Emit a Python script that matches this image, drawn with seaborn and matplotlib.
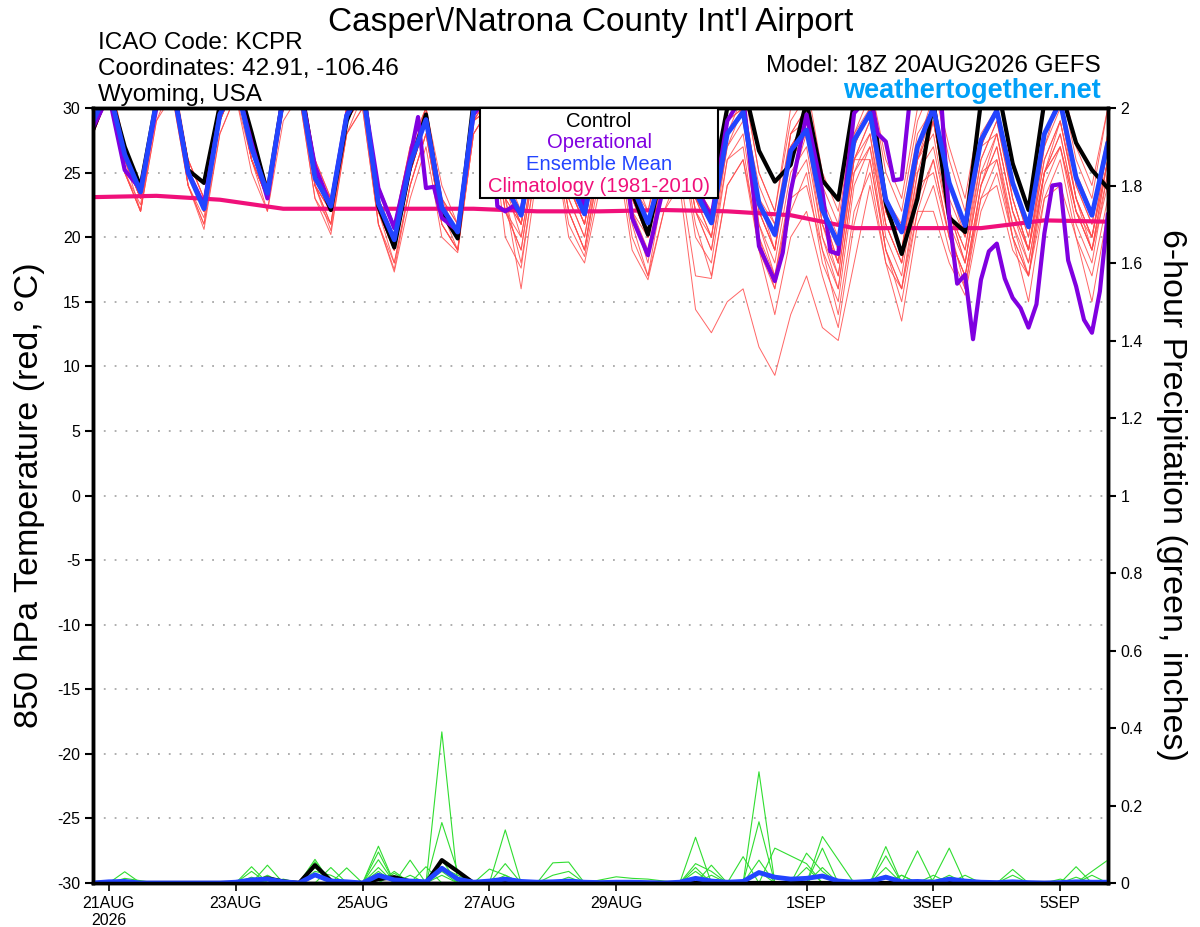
import numpy as np
import pandas as pd
import matplotlib
matplotlib.use("Agg")
import matplotlib.pyplot as plt
from matplotlib.patches import Rectangle
import seaborn as sns

# hours since 18Z 20AUG2026, one step every 6 h
hours = list(range(0, 385, 6))

tick_hours = [6, 54, 102, 150, 198, 270, 318, 366]
tick_labels = ["21AUG\n2026", "23AUG", "25AUG", "27AUG", "29AUG", "1SEP", "3SEP", "5SEP"]

# ensemble mean 850 hPa temperature (blue)
mean_temp = [29.0,
             31.5, 26.4, 23.5, 30.5, 32.0, 25.0, 22.2, 29.5, 32.0, 26.9, 23.4, 30.8,
             32.0, 24.6, 22.4, 29.4, 31.5, 22.6, 19.8, 25.7, 29.1, 22.3, 20.4, 29.8,
             31.0, 24.0, 21.7, 28.5, 30.5, 24.5, 21.8, 28.0, 30.0, 24.0, 21.1, 25.5,
             29.5, 23.5, 21.1, 28.0, 29.7, 22.6, 20.2, 26.7, 28.3, 22.1, 19.5, 27.5,
             29.6, 22.9, 20.4, 27.0, 30.0, 24.2, 20.9, 27.5, 29.8, 24.2, 20.8, 28.0,
             30.5, 24.6, 21.7, 27.3]

# control run (black)
ctrl_temp = [28.3,
             31.5, 27.0, 23.9, 30.5, 32.0, 25.2, 24.2, 30.2, 32.5, 28.1, 23.4, 31.0,
             32.5, 25.1, 22.1, 29.0, 32.0, 22.4, 19.2, 25.5, 29.5, 21.9, 19.9, 30.5,
             31.5, 25.0, 23.5, 29.5, 31.0, 25.5, 23.0, 28.5, 30.5, 23.5, 20.2, 26.0,
             30.5, 25.0, 23.5, 30.0, 32.0, 26.7, 24.3, 25.6, 30.5, 24.4, 22.9, 30.5,
             31.5, 22.6, 18.7, 23.0, 30.5, 21.5, 20.4, 30.5, 32.0, 25.7, 22.1, 30.5,
             31.5, 27.3, 25.2, 23.8]

# operational run (purple), 3-hourly in places
op_hours = [0, 6, 12, 18, 24, 30, 36, 42, 48, 54, 60, 66, 72, 78, 84, 90, 96,
            102, 108, 114, 120, 123, 126, 129, 132, 138, 144, 150, 153, 156, 159,
            162, 168, 174, 180, 186, 192, 198, 204, 210, 216, 222, 228, 234, 240,
            246, 252, 258, 261, 264, 270, 276, 279, 282, 288, 294, 297, 300, 303,
            306, 309, 312, 318, 321, 324, 327, 330, 333, 336, 339, 342, 345, 348,
            351, 354, 357, 360, 363, 366, 369, 372, 375, 378, 381, 384]
op_temp = [28.5, 31.0, 25.2, 23.7, 30.0, 32.0, 25.0, 22.5, 29.5, 32.0, 27.3, 23.0,
           31.0, 32.0, 25.5, 22.4, 29.5, 31.5, 23.8, 20.7, 26.2, 29.3, 23.8, 23.9,
           21.5, 20.5, 29.5, 31.0, 22.4, 22.0, 22.4, 21.9, 28.5, 31.0, 25.0, 22.5,
           28.5, 31.0, 21.5, 18.6, 24.0, 30.0, 24.0, 21.5, 29.0, 31.0, 19.3, 16.6,
           18.8, 23.5, 29.5, 23.5, 18.9, 18.7, 29.6, 31.0, 28.0, 27.4, 24.4, 24.5,
           30.5, 32.0, 32.0, 30.5, 21.5, 16.4, 17.1, 12.1, 16.7, 18.9, 19.5, 16.8,
           15.3, 14.5, 13.0, 14.8, 20.3, 24.0, 24.1, 18.2, 16.2, 13.6, 12.6, 15.8,
           21.8]

# climatology 1981-2010 (pink), daily
clim_hours = list(range(0, 385, 24))
clim_temp = [23.1, 23.2, 22.9, 22.2, 22.2, 22.2, 22.2, 22.0, 22.0, 22.1, 22.0,
             21.7, 20.7, 20.7, 20.7, 21.3, 21.2]

# perturbed members (thin red)
ens_temp = [
    [28.5, 32, 26, 23, 31, 33, 25, 22, 30, 33, 27, 24, 31, 33, 25, 23, 30, 32, 22, 19, 25, 29, 22, 20, 30,
     32, 24, 22, 29, 31, 25, 22, 28, 30, 23, 20, 25, 29, 22, 20, 27, 29, 21, 18, 25, 27, 20, 17, 26,
     29, 22, 19, 26, 30, 23, 20, 27, 30, 24, 20, 28, 31, 24, 21, 27],
    [29, 31, 25, 22, 30, 32, 24, 21, 29, 32, 26, 23, 30, 32, 24, 21, 29, 31, 21, 18, 24, 28, 21, 19, 29,
     31, 23, 21, 29, 31, 24, 22, 29, 31, 25, 22, 27, 31, 25, 23, 30, 32, 25, 22, 29, 31, 24, 21, 30,
     32, 26, 23, 30, 32, 27, 23, 30, 32, 26, 22, 30, 32, 26, 23, 30],
    [29.5, 32, 27, 24, 31, 32, 26, 23, 30, 32, 27, 24, 31, 32, 25, 23, 30, 32, 24, 21, 27, 30, 23, 21, 30,
     31, 23, 16, 25, 29, 22, 19, 26, 29, 21, 17, 24, 28, 20, 18, 26, 27, 19, 16, 22, 25, 18, 15, 24,
     27, 19, 16, 23, 26, 20, 17, 24, 27, 21, 18, 25, 28, 22, 19, 25],
    [28, 31, 26, 23, 30, 32, 25, 22, 29, 32, 26, 23, 30, 31, 24, 22, 29, 31, 22, 19, 25, 29, 22, 20, 29,
     30, 22, 19, 27, 29, 22, 19, 26, 28, 20, 17, 22, 24, 14.4, 12.6, 15, 16, 11.5, 9.3, 14, 17, 13, 12, 18,
     24, 18, 16, 22, 26, 20, 17, 24, 28, 22, 18, 25, 29, 23, 19, 26],
    [29, 32, 26, 23, 30, 32, 25, 22, 29, 32, 27, 23, 30, 32, 24, 22, 29, 31, 22, 19, 25, 29, 22, 20, 30,
     31, 24, 21, 28, 30, 24, 21, 28, 30, 24, 21, 26, 30, 23, 21, 29, 31, 22, 19, 28, 29, 21, 18, 28,
     31, 22, 19, 27, 31, 24, 20, 28, 30, 24, 20, 28, 31, 25, 22, 28],
    [28, 31, 25, 22, 29, 31, 24, 21, 28, 31, 26, 22, 30, 31, 23, 21, 28, 30, 21, 17.5, 24, 28, 21, 19, 28,
     30, 22, 20, 27, 29, 22, 19, 27, 29, 22, 20, 25, 29, 22, 19, 26, 28, 20, 16, 24, 26, 19, 14, 22,
     25, 18, 13.5, 21, 24, 19, 16, 23, 26, 20, 17, 24, 27, 21, 18, 25],
    [29.5, 33, 27, 24, 31, 33, 26, 23, 31, 33, 28, 24, 31, 33, 26, 23, 30, 32, 23, 20, 26, 30, 23, 21, 31,
     32, 25, 23, 30, 32, 26, 23, 30, 32, 26, 23, 29, 32, 26, 23, 30, 32, 25, 22, 30, 32, 25, 22, 30,
     32, 25, 22, 29, 32, 26, 22, 30, 32, 26, 22, 30, 33, 27, 24, 30],
    [28.5, 32, 26, 22, 30, 32, 24, 21.5, 29, 32, 26, 23, 30, 32, 24, 20.5, 28, 31, 22, 19, 25, 29, 22, 19, 29,
     31, 23, 18, 26, 28, 21, 18.5, 25, 28, 22, 18, 26, 29, 22, 19, 27, 30, 21, 17, 24, 28, 20, 16, 25,
     28, 20, 17, 25, 29, 22, 18, 26, 29, 23, 19, 27, 30, 23, 20, 26],
    [29, 31, 26, 23, 30, 32, 25, 22.5, 29, 33, 27, 23, 31, 32, 25, 22, 29, 31, 22, 18, 24, 28, 21, 19, 28,
     30, 24, 21, 29, 31, 25, 22, 29, 31, 24, 22, 28, 31, 24, 22, 29, 30, 24, 21, 28, 30, 23, 20, 28,
     30, 23, 21, 28, 30, 24, 21, 27, 28, 22, 19, 25, 27, 22, 20, 26],
    [28, 31, 25, 22.5, 30, 31, 24, 20.6, 28, 31, 25, 22, 29, 31, 23, 20.2, 28, 30, 21, 17.3, 23, 27, 20, 18.8, 28,
     30, 22, 19, 27, 29, 23, 20, 27, 30, 23, 20, 27, 30, 23, 20, 28, 31, 23, 19, 27, 29, 22, 18, 27,
     30, 22, 19, 26, 28, 21, 16, 24, 27, 20, 15, 23, 26, 20, 15, 22],
    [29, 32, 27, 24, 31, 32, 25, 22, 30, 32, 27, 23, 31, 32, 25, 22, 30, 32, 23, 20, 26, 30, 23, 20, 30,
     31, 24, 20, 27, 30, 23, 20, 27, 29, 22, 19, 25, 28, 21, 17, 24, 26, 19, 14, 20, 22, 17, 13, 21,
     26, 19, 16, 24, 29, 22, 19, 27, 30, 23, 19, 27, 31, 24, 21, 28],
    [29.5, 32, 27, 24, 30, 32, 26, 23, 30, 32, 27, 24, 31, 32, 26, 23, 30, 32, 24, 21, 27, 30, 24, 21, 31,
     32, 25, 22, 29, 31, 25, 22, 29, 31, 25, 21, 28, 31, 24, 21, 29, 31, 23, 20, 28, 30, 22, 18, 26,
     26, 19, 15, 22, 22, 18, 15.5, 22, 25, 20, 17, 25, 28, 22, 19, 26],
    [28.5, 32, 26, 23, 30, 32, 25, 22, 29, 32, 26, 23, 30, 32, 24, 22, 29, 31, 22, 19, 25, 29, 22, 20, 29,
     30, 23, 21, 28, 30, 24, 21, 28, 30, 23, 20, 26, 30, 23, 21, 28, 30, 22, 19, 26, 28, 21, 18, 27,
     30, 22, 19, 26, 29, 22, 18, 25, 26, 21, 17, 23, 24, 20, 17, 23],
    [29, 31, 26, 23.5, 30, 32, 25, 22, 30, 32, 26, 23, 30, 32, 25, 22, 29, 31, 23, 20, 26, 29, 22, 20, 30,
     31, 24, 21, 28, 30, 24, 21, 28, 31, 24, 21, 27, 30, 24, 22, 29, 30, 23, 21, 27, 29, 22, 19, 26,
     28, 21, 18, 25, 27, 21, 18, 25, 28, 22, 19, 26, 29, 23, 20, 27],
    [29, 32, 26, 23, 30, 32, 25, 22, 29, 32, 26, 23, 30, 32, 25, 22, 29, 31, 22, 19, 25, 29, 22, 20, 29,
     30, 20, 17.6, 26, 28, 20, 18, 24, 27, 19, 16.7, 22, 25, 17, 16.8, 24, 26, 20, 17, 23, 24, 19, 16, 25,
     27, 21, 18, 24, 25, 20, 17, 23, 24, 19, 17, 25, 27, 22, 19, 24],
    [28.5, 31, 25, 22, 29, 32, 25, 22, 29, 32, 26, 23, 30, 32, 24, 21, 29, 31, 22, 19, 25, 29, 22, 20, 29,
     31, 24, 22, 29, 31, 24, 21, 28, 30, 23, 20, 27, 30, 23, 20, 28, 30, 22, 19, 27, 29, 21, 17, 26,
     29, 21, 18, 26, 29, 22, 19, 26, 29, 23, 19, 26, 29, 23, 20, 27],
]

# 6-hour precipitation, inches
ctrl_precip = [0, 0, 0, 0, 0, 0, 0, 0,
               0, 0, 0.005, 0.012, 0.004, 0, 0.046, 0.006,
               0, 0, 0.01, 0.015, 0.004, 0, 0.059, 0.03] + [0] * 41
mean_precip = [0, 0.003, 0.004, 0, 0, 0, 0, 0,
               0, 0.002, 0.008, 0.01, 0.003, 0, 0.021, 0.005,
               0.003, 0, 0.02, 0.008, 0.005, 0.003, 0.038, 0.01,
               0.002, 0.005, 0.01, 0.004, 0.002, 0.003, 0.005, 0.002,
               0.001, 0.002, 0.002, 0.001, 0, 0.002, 0.012, 0.005,
               0.002, 0.004, 0.027, 0.015, 0.01, 0.012, 0.018, 0.005,
               0.002, 0.004, 0.015, 0.003, 0.004, 0.002, 0.01, 0.005,
               0.002, 0.001, 0.003, 0.001, 0, 0.001, 0.003, 0.002,
               0.002]
# member precipitation: (member, step, inches), all other steps dry
precip_hits = [
    (0, 2, 0.029), (1, 2, 0.012), (1, 3, 0.006),
    (2, 10, 0.042), (3, 11, 0.046), (4, 10, 0.03), (5, 11, 0.02), (6, 10, 0.015), (7, 12, 0.01),
    (0, 14, 0.061), (1, 14, 0.055), (7, 14, 0.04), (8, 14, 0.03), (9, 14, 0.02), (10, 15, 0.04),
    (11, 16, 0.039), (8, 15, 0.02),
    (2, 18, 0.095), (4, 18, 0.08), (5, 18, 0.06), (6, 18, 0.04), (12, 18, 0.03), (3, 19, 0.03),
    (7, 20, 0.059), (8, 20, 0.02), (9, 21, 0.042), (13, 19, 0.025),
    (0, 22, 0.39), (1, 22, 0.156), (2, 22, 0.06), (3, 22, 0.04), (4, 22, 0.03), (5, 22, 0.02),
    (1, 23, 0.03), (3, 23, 0.02),
    (6, 25, 0.036), (7, 26, 0.137), (8, 26, 0.05), (9, 26, 0.02), (6, 26, 0.02),
    (10, 29, 0.052), (10, 30, 0.054), (11, 29, 0.02), (11, 30, 0.03), (12, 30, 0.015),
    (13, 32, 0.008), (13, 33, 0.016), (13, 34, 0.012), (13, 35, 0.01), (13, 36, 0.005),
    (0, 38, 0.118), (1, 38, 0.05), (2, 38, 0.04), (3, 38, 0.03), (4, 39, 0.046), (5, 39, 0.02),
    (1, 39, 0.03),
    (6, 41, 0.068), (7, 42, 0.287), (8, 42, 0.158), (9, 42, 0.059), (10, 42, 0.03),
    (11, 43, 0.09), (11, 44, 0.07), (11, 45, 0.05),
    (12, 45, 0.077), (0, 45, 0.04), (13, 46, 0.12), (1, 46, 0.09), (2, 46, 0.04), (13, 47, 0.06),
    (12, 46, 0.03),
    (3, 50, 0.094), (4, 50, 0.07), (5, 50, 0.04), (6, 50, 0.02), (7, 51, 0.02), (8, 52, 0.083),
    (9, 53, 0.02), (10, 54, 0.09), (11, 54, 0.02), (12, 55, 0.02), (9, 51, 0.02), (10, 53, 0.01),
    (0, 58, 0.035), (1, 58, 0.02), (2, 62, 0.042), (3, 62, 0.015), (4, 63, 0.02), (5, 63, 0.03),
    (5, 64, 0.059), (6, 61, 0.01),
]

RED = "#ff4a4a"
GREEN = "#30dd30"
PURPLE = "#8000e0"
BLUE = "#2244ff"
PINK = "#f0107a"

sns.set_theme(style="ticks")
plt.rcParams["font.family"] = ["Liberation Sans", "DejaVu Sans"]
plt.rcParams["axes.unicode_minus"] = False
for key in ("text.color", "axes.labelcolor", "xtick.color", "ytick.color"):
    plt.rcParams[key] = "black"

# long tables for seaborn
temp_df = pd.DataFrame(
    [(m, h, v) for m, row in enumerate(ens_temp) for h, v in zip(hours, row)],
    columns=["member", "hour", "temp"])
precip_grid = np.zeros((14, len(hours)))
for m, step, val in precip_hits:
    precip_grid[m, step] = val
precip_df = pd.DataFrame(
    [(m, h, precip_grid[m, k]) for m in range(14) for k, h in enumerate(hours)],
    columns=["member", "hour", "precip"])

fig = plt.figure(figsize=(12, 9.27), dpi=100)
ax = fig.add_axes([93 / 1200, 44 / 927, 1014.8 / 1200, 775 / 927])
ax2 = ax.twinx()

sns.lineplot(data=temp_df, x="hour", y="temp", units="member", estimator=None,
             color=RED, linewidth=0.7, alpha=0.85, ax=ax, legend=False)
sns.lineplot(x=clim_hours, y=clim_temp, color=PINK, linewidth=3, ax=ax)
sns.lineplot(x=hours, y=ctrl_temp, color="black", linewidth=3, ax=ax)
sns.lineplot(x=op_hours, y=op_temp, color=PURPLE, linewidth=3, ax=ax)
sns.lineplot(x=hours, y=mean_temp, color=BLUE, linewidth=3.5, ax=ax)

sns.lineplot(data=precip_df, x="hour", y="precip", units="member", estimator=None,
             color=GREEN, linewidth=0.8, ax=ax2, legend=False)
sns.lineplot(x=hours, y=ctrl_precip, color="black", linewidth=3, ax=ax2)
sns.lineplot(x=hours, y=mean_precip, color=BLUE, linewidth=3.5, ax=ax2)

ax.set_xlim(0, 384)
ax.set_ylim(-30, 30)
ax2.set_ylim(0, 2)
ax.set_yticks(range(-30, 31, 5))
ax.set_yticklabels([str(v) for v in range(-30, 31, 5)])
ax2.set_yticks([i / 5 for i in range(11)])
ax2.set_yticklabels([f"{i / 5:g}" for i in range(11)])
ax.set_xticks(tick_hours)
ax.set_xticklabels(tick_labels)
ax.set_xlabel("")
ax.set_ylabel("")
ax2.set_ylabel("")
ax.grid(True, axis="y", color="#a8a8a8", linestyle=(0, (1, 5)), linewidth=1.3)
ax.tick_params(axis="y", labelsize=11.5, length=6, width=1.5, direction="out", pad=3)
ax.tick_params(axis="x", labelsize=11.5, length=6, width=1.2, direction="out", pad=3)
ax2.tick_params(axis="y", labelsize=11.5, length=6, width=1.5, direction="out", pad=3)
for a in (ax, ax2):
    for s in a.spines.values():
        s.set_visible(True)
        s.set_linewidth(2.5)
        s.set_color("black")

# legend box at the top of the plot
x0 = (480 - 93) / 1014.8
x1 = (718 - 93) / 1014.8
y0 = (883 - 198) / 775
ax2.add_patch(Rectangle((x0, y0), x1 - x0, 1 - y0, transform=ax2.transAxes,
                        facecolor="white", edgecolor="black", linewidth=1.5,
                        zorder=10, clip_on=False))
xc = (599 - 93) / 1014.8
for txt, col, ypx in [("Control", "black", 121), ("Operational", PURPLE, 142),
                      ("Ensemble Mean", BLUE, 164), ("Climatology (1981-2010)", PINK, 186)]:
    ax2.text(xc, (883 - ypx) / 775, txt, color=col, fontsize=14.6, ha="center",
             va="center", transform=ax2.transAxes, zorder=11)

# header text
def fy(px):
    return 1 - px / 927

fig.text(591 / 1200, fy(31), "Casper\\/Natrona County Int'l Airport", fontsize=24,
         ha="center", va="baseline")
fig.text(98 / 1200, fy(49), "ICAO Code: KCPR", fontsize=17.5, ha="left", va="baseline")
fig.text(98 / 1200, fy(75), "Coordinates: 42.91, -106.46", fontsize=17.5, ha="left", va="baseline")
fig.text(98 / 1200, fy(101), "Wyoming, USA", fontsize=17.5, ha="left", va="baseline")
fig.text(1101 / 1200, fy(72), "Model: 18Z 20AUG2026 GEFS", fontsize=17.5, ha="right", va="baseline")
fig.text(1101 / 1200, fy(98), "weathertogether.net", fontsize=19.5, ha="right", va="baseline",
         color="#00a0f8", fontweight="bold")

fig.text(30 / 1200, fy(495), "850 hPa Temperature (red, \u00b0C)", fontsize=24.5,
         rotation=90, ha="center", va="center")
fig.text(1172 / 1200, fy(495), "6-hour Precipitation (green, inches)", fontsize=24.5,
         rotation=270, ha="center", va="center")

fig.savefig("out.png", dpi=100)
